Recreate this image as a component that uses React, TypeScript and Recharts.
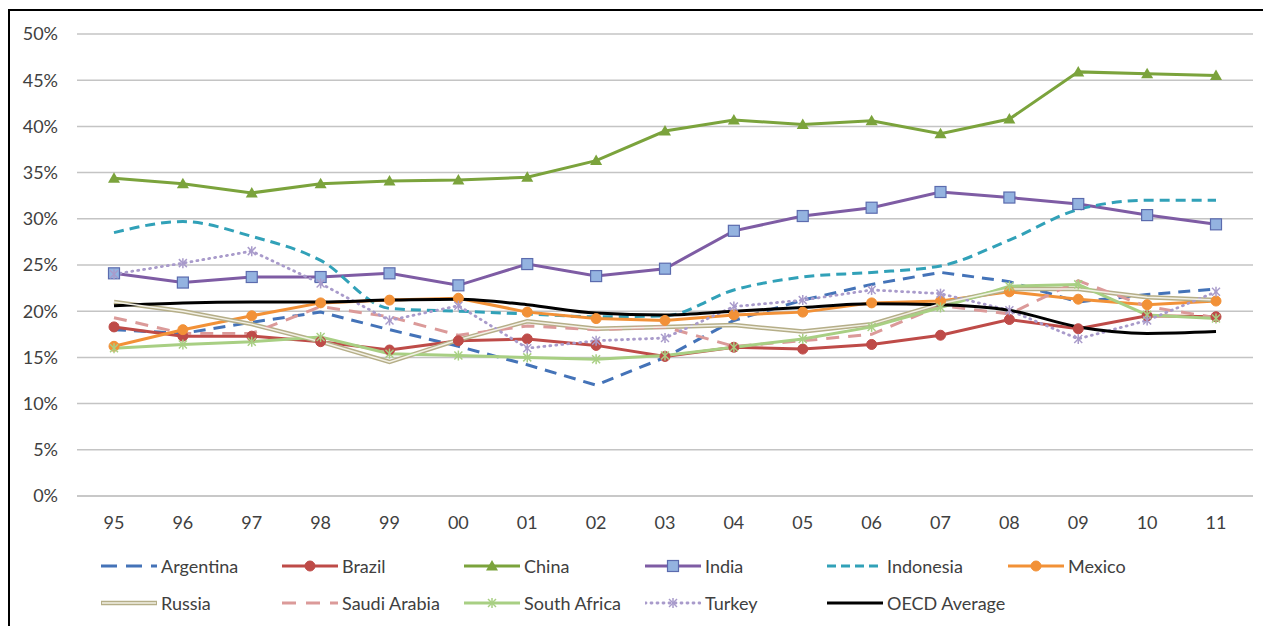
import React from 'react';
import { LineChart, Line, XAxis, YAxis, CartesianGrid, Legend } from 'recharts';

const YEARS = ['95', '96', '97', '98', '99', '00', '01', '02', '03', '04', '05', '06', '07', '08', '09', '10', '11'];

const ARGENTINA = [18.0, 17.6, 18.8, 19.9, 18.0, 16.2, 14.2, 12.0, 15.0, 19.0, 21.2, 22.9, 24.2, 23.2, 21.0, 21.8, 22.4];
const BRAZIL = [18.3, 17.3, 17.3, 16.7, 15.8, 16.8, 17.0, 16.3, 15.1, 16.1, 15.9, 16.4, 17.4, 19.1, 18.1, 19.5, 19.4];
const CHINA = [34.4, 33.8, 32.8, 33.8, 34.1, 34.2, 34.5, 36.3, 39.5, 40.7, 40.2, 40.6, 39.2, 40.8, 45.9, 45.7, 45.5];
const INDIA = [24.1, 23.1, 23.7, 23.7, 24.1, 22.8, 25.1, 23.8, 24.6, 28.7, 30.3, 31.2, 32.9, 32.3, 31.6, 30.4, 29.4];
const INDONESIA = [28.5, 29.7, 28.1, 25.5, 20.3, 20.0, 19.7, 19.4, 19.5, 22.3, 23.7, 24.2, 24.9, 27.7, 31.0, 32.0, 32.0];
const MEXICO = [16.2, 18.0, 19.5, 20.9, 21.2, 21.4, 19.9, 19.2, 19.0, 19.6, 19.9, 20.9, 21.1, 22.1, 21.3, 20.7, 21.1];
const RUSSIA = [21.0, 20.0, 18.6, 16.7, 14.5, 16.9, 18.9, 18.1, 18.3, 18.5, 17.8, 18.6, 20.8, 22.4, 22.4, 21.5, 21.2];
const SAUDI_ARABIA = [19.3, 17.6, 17.6, 20.5, 19.4, 17.4, 18.4, 18.0, 18.3, 16.2, 16.8, 17.5, 20.6, 19.7, 23.3, 20.5, 19.3];
const SOUTH_AFRICA = [16.0, 16.4, 16.7, 17.2, 15.4, 15.2, 15.0, 14.8, 15.2, 16.1, 17.0, 18.3, 20.4, 22.7, 22.9, 19.6, 19.2];
const TURKEY = [24.0, 25.2, 26.5, 23.0, 19.0, 20.6, 16.0, 16.8, 17.1, 20.5, 21.2, 22.3, 21.9, 20.1, 17.0, 19.0, 22.1];
const OECD = [20.6, 20.9, 21.0, 21.0, 21.2, 21.3, 20.7, 19.8, 19.6, 20.0, 20.4, 20.8, 20.7, 20.1, 18.3, 17.6, 17.8];

const Y_TICKS = [0, 5, 10, 15, 20, 25, 30, 35, 40, 45, 50];

type Marker = 'none' | 'circle' | 'triangle' | 'square' | 'star' | 'double';

interface Series {
  key: string;
  name: string;
  values: number[];
  color: string;
  width: number;
  dash?: string;
  legendDash?: string;
  marker: Marker;
  curve: 'linear' | 'monotone';
}

const SERIES: Series[] = [
  { key: 'argentina', name: 'Argentina', values: ARGENTINA, color: '#4473B8', width: 3, dash: '12 8', legendDash: '16 9', marker: 'none', curve: 'linear' },
  { key: 'brazil', name: 'Brazil', values: BRAZIL, color: '#BE4B48', width: 3, marker: 'circle', curve: 'linear' },
  { key: 'china', name: 'China', values: CHINA, color: '#7BA33C', width: 3, marker: 'triangle', curve: 'linear' },
  { key: 'india', name: 'India', values: INDIA, color: '#7E5CA4', width: 3, marker: 'square', curve: 'linear' },
  { key: 'indonesia', name: 'Indonesia', values: INDONESIA, color: '#31A1B8', width: 3, dash: '10 6', legendDash: '9 5', marker: 'none', curve: 'monotone' },
  { key: 'mexico', name: 'Mexico', values: MEXICO, color: '#F29137', width: 3, marker: 'circle', curve: 'linear' },
  { key: 'russia', name: 'Russia', values: RUSSIA, color: '#B5AE88', width: 4.5, marker: 'double', curve: 'linear' },
  { key: 'saudi', name: 'Saudi Arabia', values: SAUDI_ARABIA, color: '#DB9A99', width: 3, dash: '13 9', legendDash: '14 10', marker: 'none', curve: 'linear' },
  { key: 'southAfrica', name: 'South Africa', values: SOUTH_AFRICA, color: '#A8CF83', width: 3, marker: 'star', curve: 'linear' },
  { key: 'turkey', name: 'Turkey', values: TURKEY, color: '#A99BCB', width: 2.8, dash: '1 5', legendDash: '1 5', marker: 'star', curve: 'linear' },
  { key: 'oecd', name: 'OECD Average', values: OECD, color: '#000000', width: 3, marker: 'none', curve: 'monotone' },
];

const data = YEARS.map((year, i) => {
  const row: Record<string, string | number> = { year };
  for (const s of SERIES) row[s.key] = s.values[i];
  return row;
});

const FONT = 'Lato';
const TEXT = '#404040';
const GRID = '#C4C4C4';

function markerShape(marker: Marker, color: string, cx: number, cy: number, key?: React.Key) {
  if (marker === 'circle') return <circle key={key} cx={cx} cy={cy} r={5} fill={color} stroke={color} />;
  if (marker === 'triangle')
    return <polygon key={key} points={`${cx},${cy - 6} ${cx + 6},${cy + 4.5} ${cx - 6},${cy + 4.5}`} fill={color} />;
  if (marker === 'square')
    return <rect key={key} x={cx - 5.5} y={cy - 5.5} width={11} height={11} fill="#94B3E0" stroke="#5B6BAE" strokeWidth={1.2} />;
  if (marker === 'star')
    return (
      <g key={key} stroke={color} strokeWidth={1.5}>
        <line x1={cx - 4} y1={cy - 4} x2={cx + 4} y2={cy + 4} />
        <line x1={cx - 4} y1={cy + 4} x2={cx + 4} y2={cy - 4} />
        <line x1={cx} y1={cy - 5} x2={cx} y2={cy + 5} />
      </g>
    );
  return <g key={key} />;
}

function dotFor(s: Series) {
  if (s.marker === 'none' || s.marker === 'double') return false;
  return (p: any) => markerShape(s.marker, s.color, p.cx, p.cy, `${s.key}-${p.index}`);
}

const LEGEND_COL_X = [101, 282, 464, 645, 827, 1008];
const LEGEND_ROW_Y = [20, 57];

function LegendIcon({ s }: { s: Series }) {
  return (
    <svg width={56} height={14} style={{ display: 'block' }}>
      <line x1={0} y1={7} x2={56} y2={7} stroke={s.color} strokeWidth={s.width} strokeDasharray={s.legendDash} strokeLinecap={s.key === 'turkey' ? 'round' : 'butt'} />
      {s.marker === 'double' && <line x1={1} y1={7} x2={55} y2={7} stroke="#F3F1E6" strokeWidth={1.5} />}
      {s.marker !== 'double' && markerShape(s.marker, s.color, 28, 7)}
    </svg>
  );
}

function renderLegend() {
  return (
    <div style={{ position: 'relative', width: 1263, height: 80, fontFamily: FONT }}>
      {SERIES.map((s, i) => {
        const col = i % 6;
        const row = Math.floor(i / 6);
        return (
          <div
            key={s.key}
            style={{
              position: 'absolute',
              left: LEGEND_COL_X[col],
              top: LEGEND_ROW_Y[row] - 11,
              height: 22,
              display: 'flex',
              alignItems: 'center',
              whiteSpace: 'nowrap',
            }}
          >
            <LegendIcon s={s} />
            <span style={{ marginLeft: 4, fontSize: 18, color: TEXT }}>{s.name}</span>
          </div>
        );
      })}
    </div>
  );
}

export default function App() {
  return (
    <div style={{ position: 'absolute', left: 0, top: 0, width: 1263, height: 626, overflow: 'hidden', background: '#fff' }}>
      <div
        style={{
          position: 'absolute',
          left: 8,
          top: 9,
          width: 1300,
          height: 700,
          borderLeft: '2px solid #000',
          borderTop: '2px solid #000',
        }}
      />
      <div style={{ position: 'absolute', left: 0, top: 0 }}>
        <LineChart width={1263} height={626} data={data} margin={{ top: 34, right: 10, bottom: 20, left: 10 }} style={{ fontFamily: FONT }}>
          <CartesianGrid vertical={false} stroke={GRID} strokeWidth={1.5} />
          <XAxis
            dataKey="year"
            height={30}
            padding={{ left: 37, right: 37 }}
            axisLine={{ stroke: GRID, strokeWidth: 1.5 }}
            tickLine={false}
            tickSize={0}
            tickMargin={20}
            tick={{ fill: TEXT, fontSize: 18, fontFamily: FONT }}
            interval={0}
          />
          <YAxis
            width={67}
            domain={[0, 50]}
            ticks={Y_TICKS}
            axisLine={false}
            tickLine={false}
            tickSize={0}
            tickMargin={19}
            tick={{ fill: TEXT, fontSize: 18, fontFamily: FONT }}
            tickFormatter={(v: number) => `${v}%`}
          />
          <Legend
            content={renderLegend}
            wrapperStyle={{ top: 546, left: 0, bottom: 'auto', width: 1263, height: 80 }}
          />
          {SERIES.map((s) => (
            <Line
              key={s.key}
              type={s.curve}
              dataKey={s.key}
              name={s.name}
              stroke={s.color}
              strokeWidth={s.width}
              strokeDasharray={s.dash}
              strokeLinecap={s.key === 'turkey' ? 'round' : 'butt'}
              dot={dotFor(s)}
              activeDot={false}
              isAnimationActive={false}
            />
          ))}
          <Line
            key="russia-inner"
            type="linear"
            dataKey="russia"
            stroke="#F3F1E6"
            strokeWidth={1.5}
            dot={false}
            activeDot={false}
            legendType="none"
            isAnimationActive={false}
          />
        </LineChart>
      </div>
    </div>
  );
}
